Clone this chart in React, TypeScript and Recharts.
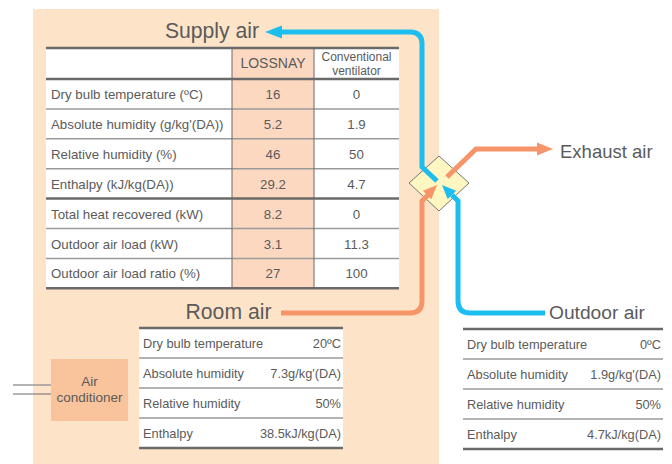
import { ComposedChart, Customized } from "recharts";

const mainLabels = [
  "Dry bulb temperature (ºC)",
  "Absolute humidity (g/kg'(DA))",
  "Relative humidity (%)",
  "Enthalpy (kJ/kg(DA))",
  "Total heat recovered (kW)",
  "Outdoor air load (kW)",
  "Outdoor air load ratio (%)",
];
const lossnayValues = ["16", "5.2", "46", "29.2", "8.2", "3.1", "27"];
const conventionalValues = ["0", "1.9", "50", "4.7", "0", "11.3", "100"];

const conditionLabels = [
  "Dry bulb temperature",
  "Absolute humidity",
  "Relative humidity",
  "Enthalpy",
];
const roomValues = ["20ºC", "7.3g/kg'(DA)", "50%", "38.5kJ/kg(DA)"];
const outdoorValues = ["0ºC", "1.9g/kg'(DA)", "50%", "4.7kJ/kg(DA)"];

const FONT = "'Liberation Sans', Arial, Helvetica, sans-serif";
const TEXT = "#5b5b5b";
const BLUE = "#1cbdef";
const ORANGE = "#f7956a";
const PEACH = "#fde4c8";
const LOSS_FILL = "#fbd8bf";
const DARK = "#6a6a6a";
const THIN = "#9a9a9a";

const head = (tx: number, ty: number, dx: number, dy: number, len: number, half: number) => {
  const m = Math.hypot(dx, dy);
  const ux = dx / m;
  const uy = dy / m;
  const bx = tx - ux * len;
  const by = ty - uy * len;
  return `${tx},${ty} ${bx - uy * half},${by + ux * half} ${bx + uy * half},${by - ux * half}`;
};

const MainTable = () => {
  const x0 = 46;
  const x1 = 232;
  const x2 = 314;
  const x3 = 399;
  const top = 48;
  const headBottom = 79;
  const rowH = 29.9;
  const bottom = headBottom + rowH * mainLabels.length;
  const cx = (x2 + x3) / 2;
  return (
    <g fontFamily={FONT} fill={TEXT}>
      <rect x={x0} y={top} width={x3 - x0} height={bottom - top} fill="#fff" />
      <rect x={x1} y={top} width={x2 - x1} height={bottom - top} fill={LOSS_FILL} />
      {mainLabels.map((label, i) => {
        const y = headBottom + rowH * i;
        return (
          <g key={label}>
            {i > 0 && i !== 4 && (
              <line x1={x0} x2={x3} y1={y} y2={y} stroke={THIN} strokeWidth={1.5} />
            )}
            <text x={x0 + 5} y={y + 20} fontSize={13.3}>
              {label}
            </text>
            <text x={(x1 + x2) / 2} y={y + 20} fontSize={13.3} textAnchor="middle">
              {lossnayValues[i]}
            </text>
            <text x={cx} y={y + 20} fontSize={13.3} textAnchor="middle">
              {conventionalValues[i]}
            </text>
          </g>
        );
      })}
      <line x1={x1} x2={x1} y1={top} y2={bottom} stroke={DARK} strokeWidth={1} />
      <line x1={x2} x2={x2} y1={top} y2={bottom} stroke={DARK} strokeWidth={1} />
      {[top, headBottom, headBottom + rowH * 4, bottom].map((y) => (
        <line key={y} x1={x0} x2={x3} y1={y} y2={y} stroke={DARK} strokeWidth={2.5} />
      ))}
      <text x={(x1 + x2) / 2} y={68} fontSize={14} textAnchor="middle">
        LOSSNAY
      </text>
      <text x={cx} y={60.5} fontSize={12} textAnchor="middle">
        Conventional
      </text>
      <text x={cx} y={74.5} fontSize={12} textAnchor="middle">
        ventilator
      </text>
    </g>
  );
};

const CondTable = ({ x0, x1, top, values }: { x0: number; x1: number; top: number; values: string[] }) => {
  const rowH = 30;
  const bottom = top + rowH * conditionLabels.length;
  return (
    <g fontFamily={FONT} fill={TEXT}>
      <rect x={x0} y={top} width={x1 - x0} height={bottom - top} fill="#fff" />
      {conditionLabels.map((label, i) => {
        const y = top + rowH * i;
        return (
          <g key={label}>
            {i > 0 && <line x1={x0} x2={x1} y1={y} y2={y} stroke={THIN} strokeWidth={1.5} />}
            <text x={x0 + 4} y={y + 19.5} fontSize={12.8}>
              {label}
            </text>
            <text x={x1 - 2} y={y + 19.5} fontSize={12.8} textAnchor="end">
              {values[i]}
            </text>
          </g>
        );
      })}
      <line x1={x0} x2={x1} y1={top} y2={top} stroke={DARK} strokeWidth={2.5} />
      <line x1={x0} x2={x1} y1={bottom} y2={bottom} stroke={DARK} strokeWidth={2.5} />
    </g>
  );
};

const Diagram = () => (
  <g>
    <rect x={0} y={0} width={672} height={464} fill="#fff" />
    <rect x={33} y={9} width={406} height={455} fill={PEACH} />

    <MainTable />

    {/* air conditioner */}
    <line x1={13} x2={51} y1={385} y2={385} stroke={THIN} strokeWidth={1.5} />
    <line x1={13} x2={51} y1={394} y2={394} stroke={DARK} strokeWidth={1} />
    <rect x={51} y={359} width={77} height={62} fill="#f9c49c" />
    <text x={89.5} y={386} fontSize={13.5} fill={TEXT} fontFamily={FONT} textAnchor="middle">
      Air
    </text>
    <text x={89.5} y={401.5} fontSize={13.5} fill={TEXT} fontFamily={FONT} textAnchor="middle">
      conditioner
    </text>

    <CondTable x0={139} x1={343} top={328} values={roomValues} />
    <CondTable x0={463} x1={663} top={329} values={outdoorValues} />

    {/* heat exchanger */}
    <polygon points="439,156 469,183 439,211 409,183" fill="#fff6c2" stroke="#777" strokeWidth={1} />

    {/* flows */}
    <path d="M 279 32 H 410 Q 422 32 422 44 V 167 L 437 181" fill="none" stroke={BLUE} strokeWidth={5} />
    <polygon points={head(265, 32, -1, 0, 17, 6.5)} fill={BLUE} />

    <path d="M 447 177 L 476 149 H 540" fill="none" stroke={ORANGE} strokeWidth={5} />
    <polygon points={head(553, 149, 1, 0, 16, 6.5)} fill={ORANGE} />

    <path d="M 281 313 H 410 Q 422 313 422 301 V 201 L 428 195" fill="none" stroke={ORANGE} strokeWidth={5} />
    <polygon points={head(437, 185, 1, -1, 14, 6)} fill={ORANGE} />

    <path d="M 545 313 H 470 Q 458 313 458 301 V 201 L 452 195" fill="none" stroke={BLUE} strokeWidth={5} />
    <polygon points={head(442, 185, -1, -1, 14, 6)} fill={BLUE} />

    {/* titles */}
    <g fontFamily={FONT} fill={TEXT} fontSize={21.2}>
      <text x={212} y={38} textAnchor="middle">
        Supply air
      </text>
      <text x={228.5} y={319} textAnchor="middle">
        Room air
      </text>
      <text x={549} y={319} fontSize={19.2}>
        Outdoor air
      </text>
      <text x={560} y={158} fontSize={18.5}>
        Exhaust air
      </text>
    </g>
  </g>
);

export default function App() {
  return (
    <div style={{ position: "absolute", left: 0, top: 0 }}>
      <ComposedChart
        width={672}
        height={464}
        data={mainLabels.map((name, i) => ({ name, lossnay: lossnayValues[i] }))}
        margin={{ top: 0, right: 0, bottom: 0, left: 0 }}
      >
        <Customized component={<Diagram />} />
      </ComposedChart>
    </div>
  );
}
